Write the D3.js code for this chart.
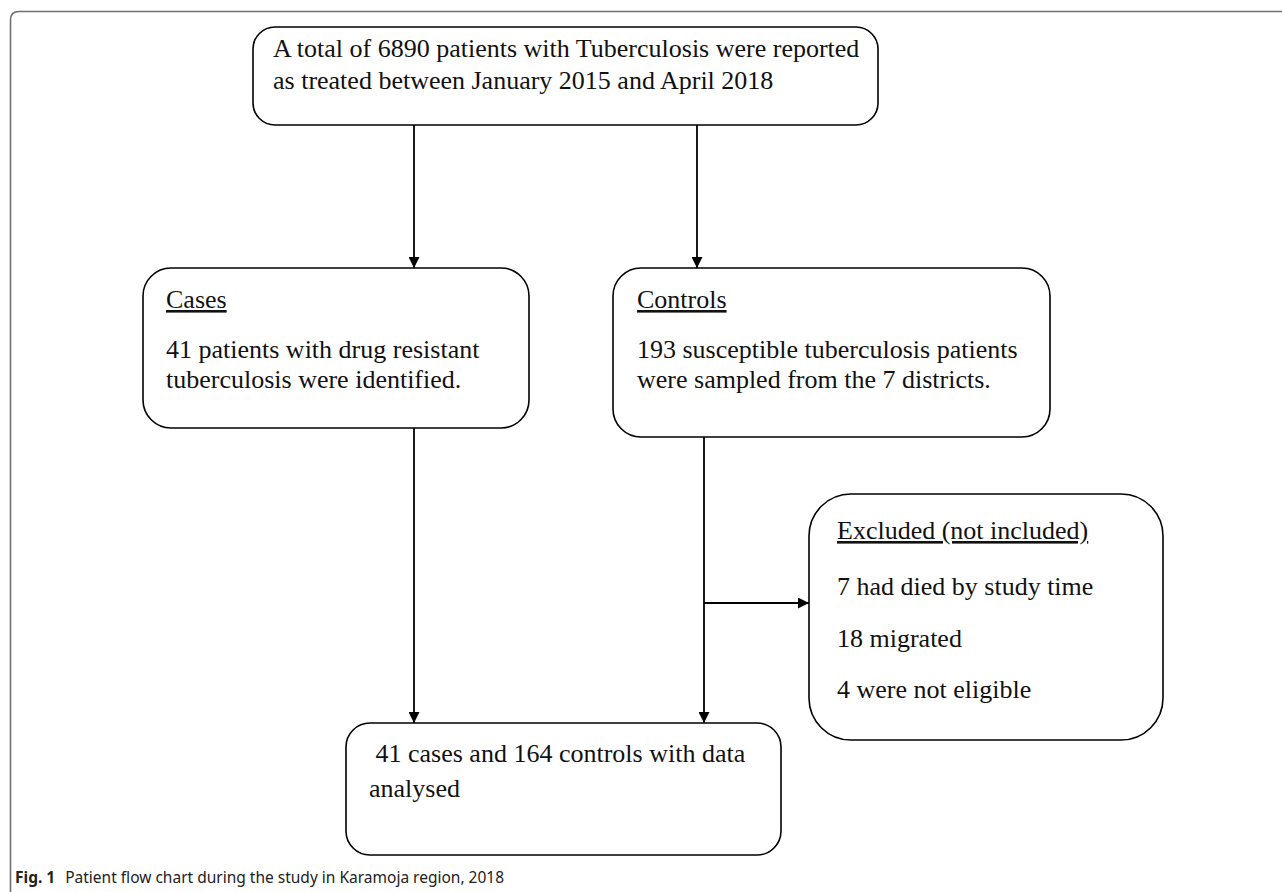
<!DOCTYPE html>
<html>
<head>
<meta charset="utf-8">
<script src="https://cdn.jsdelivr.net/npm/d3@7"></script>
<style>
  html, body { margin: 0; padding: 0; background: #fff; }
  svg { display: block; }
</style>
</head>
<body>
<svg id="chart" width="1282" height="892"></svg>
<script>
// ---- DATA (text content of the flow chart) ----
const totalLines = ["A total of 6890 patients with Tuberculosis were reported", "as treated between January 2015 and April 2018"];
const casesTitle = "Cases";
const casesLines = ["41 patients with drug resistant", "tuberculosis were identified."];
const controlsTitle = "Controls";
const controlsLines = ["193 susceptible tuberculosis patients", "were sampled from the 7 districts."];
const excludedTitle = "Excluded (not included)";
const excludedLines = ["7 had died by study time", "18 migrated", "4 were not eligible"];
const analysedLines = ["\u00a041 cases and 164 controls with data", "analysed"];
const captionBold = "Fig. 1";
const captionText = "Patient flow chart during the study in Karamoja region, 2018";

// ---- LAYOUT ----
const svg = d3.select("#chart");
const serif = "'Liberation Serif', 'Times New Roman', serif";
const fs = 26;

const defs = svg.append("defs");
defs.append("marker").attr("id", "arr")
  .attr("viewBox", "0 0 10 10").attr("refX", 10).attr("refY", 5)
  .attr("markerWidth", 13).attr("markerHeight", 11).attr("markerUnits", "userSpaceOnUse")
  .attr("orient", "auto")
  .append("path").attr("d", "M0,0 L10,5 L0,10 Z").attr("fill", "#000");

// outer frame (top + left, rounded corner)
svg.append("path")
  .attr("d", "M1282,11.5 L19,11.5 Q10.5,11.5 10.5,20 L10.5,892")
  .attr("fill", "none").attr("stroke", "#6e6e6e").attr("stroke-width", 1.6);

const boxes = [
  {key: "total", x: 253, y: 27, w: 625, h: 98, r: 22},
  {key: "cases", x: 143, y: 268, w: 386, h: 160, r: 28},
  {key: "controls", x: 613, y: 268, w: 437, h: 169, r: 28},
  {key: "excluded", x: 809, y: 494, w: 354, h: 246, r: 42},
  {key: "analysed", x: 346, y: 723, w: 435, h: 132, r: 24}
];
const B = Object.fromEntries(boxes.map(b => [b.key, b]));

svg.append("g").selectAll("rect").data(boxes).join("rect")
  .attr("x", d => d.x).attr("y", d => d.y).attr("width", d => d.w).attr("height", d => d.h)
  .attr("rx", d => d.r).attr("ry", d => d.r)
  .attr("fill", "none").attr("stroke", "#000").attr("stroke-width", 1.6);

// connectors
const xL = 414, xR = 697, xR2 = 704, yBranch = 603;
const lines = [
  [[xL, B.total.y + B.total.h], [xL, B.cases.y]],
  [[xR, B.total.y + B.total.h], [xR, B.controls.y]],
  [[xL, B.cases.y + B.cases.h], [xL, B.analysed.y]],
  [[xR2, B.controls.y + B.controls.h], [xR2, B.analysed.y]],
  [[xR2, yBranch], [B.excluded.x, yBranch]]
];
svg.append("g").selectAll("path").data(lines).join("path")
  .attr("d", d => d3.line()(d))
  .attr("fill", "none").attr("stroke", "#000").attr("stroke-width", 1.8)
  .attr("marker-end", "url(#arr)");

function textBlock(x, items, size) {
  const g = svg.append("g").attr("font-family", serif).attr("font-size", size).attr("fill", "#111");
  g.selectAll("text").data(items).join("text")
    .attr("x", x).attr("y", d => d.y)
    .attr("text-decoration", d => d.u ? "underline" : null)
    .text(d => d.t);
}

textBlock(273, totalLines.map((t, i) => ({t, y: [57, 89][i]})), fs);
textBlock(166, [{t: casesTitle, y: 308, u: true}].concat(casesLines.map((t, i) => ({t, y: [358, 388][i]}))), fs);
textBlock(637, [{t: controlsTitle, y: 308, u: true}].concat(controlsLines.map((t, i) => ({t, y: [358, 388][i]}))), fs);
textBlock(837, [{t: excludedTitle, y: 539, u: true}].concat(excludedLines.map((t, i) => ({t, y: [595, 647, 698][i]}))), fs);
textBlock(369, analysedLines.map((t, i) => ({t, y: [762, 797][i]})), fs);

// caption
const cap = svg.append("text").attr("x", 15).attr("y", 883)
  .attr("font-family", "'Noto Sans', 'Open Sans', sans-serif").attr("font-size", 15.5).attr("fill", "#222");
cap.append("tspan").attr("font-weight", "bold").text(captionBold);
cap.append("tspan").attr("dx", 10).text(captionText);
</script>
</body>
</html>
